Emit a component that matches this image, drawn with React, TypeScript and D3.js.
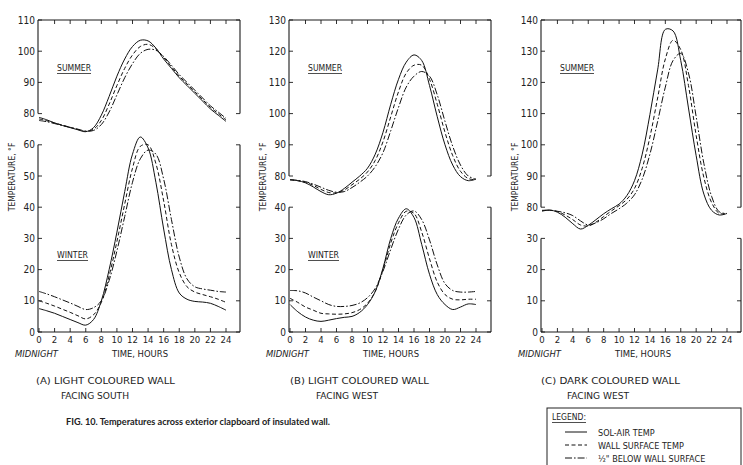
import React from 'react';
import * as d3 from 'd3';

// hours of the day (x categories)
const hours = [0, 1, 2, 3, 4, 5, 6, 7, 8, 9, 10, 11, 12, 13, 14, 15, 16, 17, 18, 19, 20, 21, 22, 23, 24];
const hourTicks = [0, 2, 4, 6, 8, 10, 12, 14, 16, 18, 20, 22, 24];

// (A) light wall facing south
const aSummerSolAir = [78.8, 78.0, 77.0, 76.2, 75.5, 74.8, 74.2, 75.5, 79.5, 85.5, 92.0, 97.5, 101.5, 103.5, 103.3, 101.0, 97.5, 94.5, 91.5, 89.0, 86.5, 84.0, 81.5, 79.5, 77.5];
const aSummerWall = [78.3, 77.7, 77.0, 76.3, 75.6, 74.9, 74.3, 75.0, 77.8, 83.0, 89.0, 94.5, 98.8, 101.5, 102.2, 100.8, 98.0, 95.0, 92.0, 89.5, 87.0, 84.5, 82.0, 80.0, 78.0];
const aSummerBelow = [77.8, 77.4, 76.8, 76.2, 75.6, 75.0, 74.4, 74.6, 76.5, 80.5, 86.0, 91.5, 96.0, 99.3, 100.6, 100.3, 98.3, 95.5, 92.5, 90.0, 87.5, 85.0, 82.5, 80.5, 78.5];
const aWinterSolAir = [7.5, 6.8, 6.0, 5.0, 4.0, 3.0, 2.2, 4.0, 10.0, 20.0, 32.0, 45.0, 57.0, 62.5, 59.0, 48.0, 33.0, 20.0, 12.5, 10.5, 9.8, 9.6, 9.2, 8.2, 7.0];
const aWinterWall = [10.0, 9.2, 8.3, 7.3, 6.3, 5.2, 4.2, 5.5, 9.5, 18.0, 29.0, 41.0, 52.5, 59.5, 60.0, 54.0, 42.0, 28.0, 19.0, 14.5, 12.8, 12.0, 11.3, 10.5, 9.5];
const aWinterBelow = [13.0, 12.2, 11.3, 10.3, 9.3, 8.2, 7.2, 7.8, 10.0, 16.5, 26.0, 37.0, 48.0, 55.5, 58.3, 57.0, 49.0, 36.0, 24.0, 17.0, 14.5, 13.8, 13.4, 13.0, 12.8];

// (B) light wall facing west
const bSummerSolAir = [78.8, 78.5, 77.8, 76.5, 75.0, 74.0, 74.5, 76.0, 78.0, 80.0, 82.5, 87.0, 94.0, 103.0, 111.0, 116.5, 118.8, 117.0, 109.0, 99.0, 90.0, 83.5, 79.8, 78.5, 79.0];
const bSummerWall = [78.8, 78.5, 78.0, 77.0, 75.7, 74.7, 74.6, 75.5, 77.2, 79.0, 81.3, 85.0, 91.0, 99.0, 107.0, 113.0, 115.5, 115.5, 111.0, 103.0, 94.0, 86.5, 81.5, 79.2, 78.8];
const bSummerBelow = [78.8, 78.6, 78.2, 77.4, 76.4, 75.4, 74.8, 75.0, 76.3, 78.0, 80.0, 83.0, 87.5, 94.5, 102.0, 108.5, 112.0, 113.5, 112.0, 106.0, 97.5, 89.5, 83.5, 80.0, 79.0];
const bWinterSolAir = [8.8, 6.5, 4.8, 3.8, 3.4, 3.8, 4.3, 4.7, 5.0, 6.3, 8.8, 13.0, 20.5, 30.0, 36.5, 39.5, 36.7, 28.0, 18.5, 12.0, 8.8, 7.2, 8.0, 9.0, 8.8];
const bWinterWall = [10.8, 9.5, 8.0, 7.0, 6.0, 5.8, 5.7, 5.8, 6.2, 7.2, 9.2, 13.0, 20.0, 28.5, 35.0, 38.7, 38.0, 32.0, 23.5, 16.0, 12.0, 10.5, 10.3, 10.5, 10.5];
const bWinterBelow = [13.3, 13.2, 12.5, 11.2, 10.0, 8.8, 8.2, 8.2, 8.5, 9.3, 11.0, 14.0, 19.5, 26.5, 33.0, 37.5, 38.8, 36.0, 29.5, 21.5, 15.5, 13.3, 12.8, 12.8, 13.0];

// (C) dark wall facing west
const cSummerSolAir = [78.7, 79.1, 78.4, 76.8, 74.7, 73.0, 74.2, 76.0, 77.9, 79.5, 81.0, 83.7, 88.5, 97.0, 109.7, 124.0, 137.0, 136.5, 127.0, 111.8, 96.5, 84.2, 79.0, 77.5, 78.0];
const cSummerWall = [78.9, 79.0, 78.6, 77.5, 76.0, 74.3, 74.0, 75.2, 77.0, 78.8, 80.5, 82.5, 86.0, 92.5, 102.5, 115.0, 127.5, 133.5, 130.5, 119.0, 103.0, 89.5, 81.5, 78.0, 78.0];
const cSummerBelow = [79.0, 79.0, 78.7, 78.2, 77.3, 75.6, 74.3, 75.0, 76.3, 78.0, 79.5, 81.3, 84.0, 89.0, 97.0, 107.5, 118.5, 127.0, 129.3, 123.0, 109.0, 94.0, 83.5, 78.5, 78.0];

const seriesNames = ['SOL-AIR TEMP', 'WALL SURFACE TEMP', '\u00BD" BELOW WALL SURFACE'];
const dashes = ['none', '4,2.5', '7,2,1.6,2'];

const FONT = "'DejaVu Sans Condensed', 'Liberation Sans Narrow', 'DejaVu Sans', sans-serif";
const TOP = 20;
const BOTTOM = 332;
const SLOT = (BOTTOM - TOP) / 10;

interface PanelSpec {
  x0: number;
  x24: number;
  right: number;
  winterTicks: number[];
  summerTicks: number[];
  summer: number[][];
  winter: number[][];
  cap1: string;
  cap2: string;
  cap1X: number;
  cap1W: number;
  cap2X: number;
  cap2W: number;
}

const panels: PanelSpec[] = [
  {
    x0: 39, x24: 226, right: 240,
    winterTicks: [0, 10, 20, 30, 40, 50, 60],
    summerTicks: [80, 90, 100, 110],
    summer: [aSummerSolAir, aSummerWall, aSummerBelow],
    winter: [aWinterSolAir, aWinterWall, aWinterBelow],
    cap1: '(A)  LIGHT  COLOURED  WALL', cap2: 'FACING  SOUTH',
    cap1X: 36, cap1W: 139, cap2X: 61, cap2W: 68,
  },
  {
    x0: 290, x24: 476, right: 491,
    winterTicks: [0, 10, 20, 30, 40],
    summerTicks: [80, 90, 100, 110, 120, 130],
    summer: [bSummerSolAir, bSummerWall, bSummerBelow],
    winter: [bWinterSolAir, bWinterWall, bWinterBelow],
    cap1: '(B)  LIGHT  COLOURED  WALL', cap2: 'FACING  WEST',
    cap1X: 290, cap1W: 139, cap2X: 316, cap2W: 62,
  },
  {
    x0: 542, x24: 727, right: 741,
    winterTicks: [0, 10, 20, 30],
    summerTicks: [80, 90, 100, 110, 120, 130, 140],
    summer: [cSummerSolAir, cSummerWall, cSummerBelow],
    winter: [],
    cap1: '(C)  DARK  COLOURED  WALL', cap2: 'FACING  WEST',
    cap1X: 541, cap1W: 139, cap2X: 567, cap2W: 62,
  },
];

const Panel: React.FC<{ p: PanelSpec }> = ({ p }) => {
  const x = d3.scaleLinear().domain([0, 24]).range([p.x0, p.x24]);
  const wMax = p.winterTicks[p.winterTicks.length - 1];
  const sMax = p.summerTicks[p.summerTicks.length - 1];
  const yW = d3.scaleLinear().domain([0, wMax]).range([BOTTOM, BOTTOM - SLOT * wMax / 10]);
  const sBase = BOTTOM - SLOT * (wMax / 10 + 1);
  const yS = d3.scaleLinear().domain([80, sMax]).range([sBase, TOP]);

  const mkLine = (y: d3.ScaleLinear<number, number>) =>
    d3.line<number>()
      .x((_, i) => x(hours[i]))
      .y(d => y(d))
      .curve(d3.curveCatmullRom.alpha(0.5));

  const left = p.x0 - 1;
  const stroke = '#1a1a1a';

  return (
    <g>
      {/* frame */}
      <line x1={left} x2={p.right} y1={TOP} y2={TOP} stroke={stroke} strokeWidth={1.1} />
      <line x1={left} x2={p.right} y1={BOTTOM} y2={BOTTOM} stroke={stroke} strokeWidth={1.1} />
      {[left, p.right].map((lx, i) => (
        <g key={i}>
          <line x1={lx} x2={lx} y1={TOP} y2={yS(80)} stroke={stroke} strokeWidth={1.1} />
          <line x1={lx} x2={lx} y1={yW(wMax)} y2={BOTTOM} stroke={stroke} strokeWidth={1.1} />
        </g>
      ))}
      {/* x ticks */}
      {hourTicks.map(h => (
        <g key={h}>
          <line x1={x(h)} x2={x(h)} y1={BOTTOM} y2={BOTTOM - 4} stroke={stroke} strokeWidth={0.9} />
          {h > 0 && <line x1={x(h)} x2={x(h)} y1={TOP} y2={TOP + 4} stroke={stroke} strokeWidth={0.9} />}
          <text x={x(h)} y={BOTTOM + 11} textAnchor="middle" fontSize={9.5} fontFamily={FONT} fill="#222">{h}</text>
        </g>
      ))}
      {/* y ticks */}
      {[...p.summerTicks.map(t => yS(t)), ...p.winterTicks.map(t => yW(t))].map((ty, i) => (
        <g key={i}>
          <line x1={left} x2={left + 4} y1={ty} y2={ty} stroke={stroke} strokeWidth={0.9} />
          <line x1={p.right} x2={p.right - 4} y1={ty} y2={ty} stroke={stroke} strokeWidth={0.9} />
        </g>
      ))}
      {p.summerTicks.map(t => (
        <text key={'s' + t} x={left - 3} y={yS(t) + 3.5} textAnchor="end" fontSize={10} fontFamily={FONT} fill="#222">{t}</text>
      ))}
      {p.winterTicks.map(t => (
        <text key={'w' + t} x={left - 3} y={yW(t) + 3.5} textAnchor="end" fontSize={10} fontFamily={FONT} fill="#222">{t}</text>
      ))}
      <text transform={`translate(${p.x0 - 24},177) rotate(-90)`} textAnchor="middle" fontSize={8.5} fontFamily={FONT} fill="#222">TEMPERATURE,  °F</text>

      {/* curves */}
      {p.summer.map((s, i) => (
        <path key={'sc' + i} d={mkLine(yS)(s) || ''} fill="none" stroke="#111" strokeWidth={1} strokeDasharray={dashes[i]} />
      ))}
      {p.winter.map((s, i) => (
        <path key={'wc' + i} d={mkLine(yW)(s) || ''} fill="none" stroke="#111" strokeWidth={1} strokeDasharray={dashes[i]} />
      ))}

      {/* season labels */}
      <text x={p.x0 + 18} y={71} fontSize={9} fontFamily={FONT} fill="#222" textLength={34} lengthAdjust="spacingAndGlyphs">SUMMER</text>
      <line x1={p.x0 + 18} x2={p.x0 + 52} y1={73.5} y2={73.5} stroke="#222" strokeWidth={0.8} />
      {p.winter.length > 0 && (
        <>
          <text x={p.x0 + 18} y={258} fontSize={9} fontFamily={FONT} fill="#222" textLength={31} lengthAdjust="spacingAndGlyphs">WINTER</text>
          <line x1={p.x0 + 18} x2={p.x0 + 49} y1={260.5} y2={260.5} stroke="#222" strokeWidth={0.8} />
        </>
      )}

      <text x={p.x0 - 24} y={357} fontSize={8.5} fontFamily={FONT} fontStyle="italic" fill="#222" textLength={43} lengthAdjust="spacingAndGlyphs">MIDNIGHT</text>
      <text x={p.x0 + 73} y={357} fontSize={8.5} fontFamily={FONT} fill="#222" textLength={56} lengthAdjust="spacingAndGlyphs">TIME,  HOURS</text>

      <text x={p.cap1X} y={384} fontSize={9} fontFamily={FONT} fill="#222" textLength={p.cap1W} lengthAdjust="spacingAndGlyphs">{p.cap1}</text>
      <text x={p.cap2X} y={399} fontSize={9} fontFamily={FONT} fill="#222" textLength={p.cap2W} lengthAdjust="spacingAndGlyphs">{p.cap2}</text>
    </g>
  );
};

export default function App() {
  return (
    <svg width={743} height={465} viewBox="0 0 743 465" style={{ position: 'absolute', left: 0, top: 0, background: '#fff' }}>
      <rect x={0} y={0} width={743} height={465} fill="#fff" />
      {panels.map((p, i) => <Panel key={i} p={p} />)}

      <text x={66} y={425} fontSize={9.5} fontWeight="bold" fontFamily="Lato, 'Open Sans', sans-serif" fill="#222" textLength={264} lengthAdjust="spacingAndGlyphs">
        FIG. 10. Temperatures across exterior clapboard of insulated wall.
      </text>

      {/* legend */}
      <rect x={547} y={408} width={194} height={70} fill="none" stroke="#222" strokeWidth={1} />
      <text x={552} y={420} fontSize={9} fontFamily={FONT} fill="#222" textLength={34} lengthAdjust="spacingAndGlyphs">LEGEND:</text>
      <line x1={552} x2={586} y1={422.5} y2={422.5} stroke="#222" strokeWidth={0.8} />
      {seriesNames.map((name, i) => (
        <g key={name}>
          <line x1={565} x2={587} y1={432 + i * 13} y2={432 + i * 13} stroke="#111" strokeWidth={1} strokeDasharray={dashes[i]} />
          <text x={598} y={435.5 + i * 13} fontSize={9} fontFamily={FONT} fill="#222">{name}</text>
        </g>
      ))}
    </svg>
  );
}
